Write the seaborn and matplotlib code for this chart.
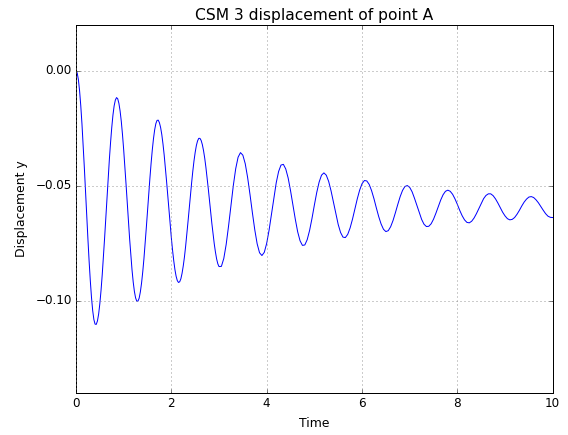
import numpy as np
import pandas as pd
import matplotlib
matplotlib.use("Agg")
import matplotlib.pyplot as plt
import seaborn as sns

# Vertical displacement of point A (CSM 3 benchmark).
# First 3 s are sampled every 0.025 s, the rest every 0.05 s.
early_disp_y = [
    0.0000, -0.0010, -0.0039, -0.0087, -0.0152, -0.0231, -0.0322, -0.0421, -0.0525, -0.0629,
    -0.0731, -0.0827, -0.0912, -0.0985, -0.1042, -0.1081, -0.1101, -0.1102, -0.1087, -0.1057,
    -0.1012, -0.0955, -0.0887, -0.0810, -0.0727, -0.0640, -0.0553, -0.0467, -0.0385, -0.0312,
    -0.0247, -0.0193, -0.0153, -0.0128, -0.0117, -0.0122, -0.0142, -0.0175, -0.0220, -0.0277,
    -0.0343, -0.0416, -0.0494, -0.0575, -0.0654, -0.0731, -0.0801, -0.0865, -0.0918, -0.0959,
    -0.0987, -0.1001, -0.1001, -0.0988, -0.0961, -0.0923, -0.0874, -0.0817, -0.0752, -0.0682,
    -0.0610, -0.0538, -0.0468, -0.0403, -0.0345, -0.0296, -0.0257, -0.0230, -0.0216, -0.0215,
    -0.0226, -0.0247, -0.0278, -0.0319, -0.0367, -0.0422, -0.0481, -0.0543, -0.0606, -0.0667,
    -0.0726, -0.0779, -0.0825, -0.0864, -0.0893, -0.0912, -0.0920, -0.0917, -0.0904, -0.0880,
    -0.0848, -0.0809, -0.0762, -0.0710, -0.0655, -0.0599, -0.0542, -0.0488, -0.0437, -0.0392,
    -0.0355, -0.0325, -0.0305, -0.0294, -0.0294, -0.0303, -0.0321, -0.0347, -0.0380, -0.0420,
    -0.0465, -0.0513, -0.0564, -0.0615, -0.0664, -0.0710, -0.0752, -0.0788, -0.0818, -0.0839,
    -0.0851,
]
late_disp_y = [
    -0.0850, -0.0816, -0.0755, -0.0675, -0.0586, -0.0499, -0.0426, -0.0376, -0.0356,
    -0.0367, -0.0404, -0.0464, -0.0538, -0.0617, -0.0691, -0.0752, -0.0791, -0.0803, -0.0789,
    -0.0750, -0.0693, -0.0624, -0.0552, -0.0487, -0.0438, -0.0410, -0.0407, -0.0427, -0.0466,
    -0.0521, -0.0583, -0.0645, -0.0700, -0.0739, -0.0759, -0.0757, -0.0734, -0.0694, -0.0642,
    -0.0584, -0.0529, -0.0484, -0.0454, -0.0444, -0.0454, -0.0481, -0.0522, -0.0571, -0.0622,
    -0.0668, -0.0703, -0.0723, -0.0725, -0.0711, -0.0683, -0.0645, -0.0601, -0.0557, -0.0519,
    -0.0491, -0.0477, -0.0479, -0.0494, -0.0521, -0.0556, -0.0596, -0.0634, -0.0666, -0.0689,
    -0.0699, -0.0695, -0.0678, -0.0651, -0.0617, -0.0581, -0.0547, -0.0520, -0.0503, -0.0499,
    -0.0507, -0.0526, -0.0554, -0.0585, -0.0617, -0.0646, -0.0667, -0.0677, -0.0676, -0.0665,
    -0.0645, -0.0619, -0.0590, -0.0562, -0.0539, -0.0524, -0.0519, -0.0524, -0.0537, -0.0557,
    -0.0581, -0.0607, -0.0630, -0.0648, -0.0659, -0.0661, -0.0654, -0.0640, -0.0621, -0.0599,
    -0.0576, -0.0556, -0.0542, -0.0535, -0.0535, -0.0543, -0.0557, -0.0575, -0.0595, -0.0615,
    -0.0631, -0.0643, -0.0648, -0.0646, -0.0638, -0.0624, -0.0607, -0.0588, -0.0571, -0.0558,
    -0.0549, -0.0547, -0.0551, -0.0561, -0.0574, -0.0590, -0.0606, -0.0621, -0.0632, -0.0637,
    -0.0638,
]
early_time = np.linspace(0.0, 3.0, len(early_disp_y))
late_time = np.linspace(3.05, 10.0, len(late_disp_y))

x_ticks = [0, 2, 4, 6, 8, 10]
y_ticks = [-0.10, -0.05, 0.00]

df = pd.DataFrame({
    "Time": np.concatenate([early_time, late_time]),
    "Displacement y": early_disp_y + late_disp_y,
})

plt.style.use("classic")
plt.rcParams["axes.unicode_minus"] = True

fig = plt.figure(figsize=(568 / 72, 435 / 72), dpi=72, facecolor="white")
ax = fig.add_axes([0.1338, 0.0966, 0.9731 - 0.1338, 0.9434 - 0.0966])
ax.set_facecolor("white")

sns.lineplot(data=df, x="Time", y="Displacement y", ax=ax,
             color="#0000ff", linewidth=1.0, estimator=None, sort=False)

ax.set_xlim(0, 10)
ax.set_ylim(-0.14, 0.02)
ax.set_xticks(x_ticks)
ax.set_yticks(y_ticks)
ax.set_yticklabels([f"{v:.2f}".replace("-", "\u2212") for v in y_ticks])
ax.grid(True, color="#808080", linestyle=":", linewidth=0.8)
ax.tick_params(direction="in", top=True, right=True, length=4, labelsize=12)

ax.set_title("CSM 3 displacement of point A", fontsize=15.5)
ax.set_xlabel("Time", fontsize=12.4, labelpad=7)
ax.set_ylabel("Displacement y", fontsize=12.4, labelpad=7.5)

fig.savefig("out.png", dpi=72, facecolor="white")
